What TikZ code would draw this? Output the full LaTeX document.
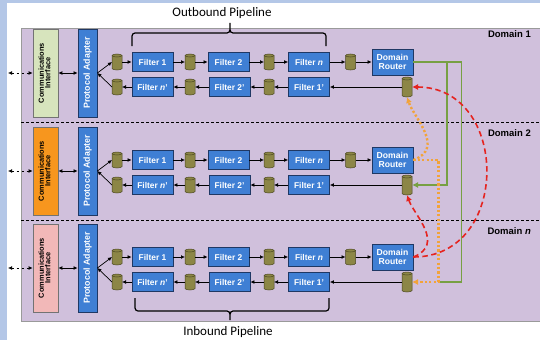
\documentclass[tikz,border=0pt]{standalone}
\usepackage{fontspec}
\setmainfont{Liberation Sans}
\newfontfamily\calib{Carlito}
\usetikzlibrary{arrows.meta,calc}
\definecolor{bgblue}{HTML}{B4C7E7}
\definecolor{panel}{HTML}{D0C0DC}
\definecolor{panelb}{HTML}{9A9A9A}
\definecolor{fblue}{HTML}{3F7FD4}
\definecolor{fborder}{HTML}{1F3864}
\definecolor{cylf}{HTML}{8C8646}
\definecolor{cyld}{HTML}{4A4720}
\definecolor{cgreen}{HTML}{D7E4BD}
\definecolor{corange}{HTML}{F7961E}
\definecolor{cpink}{HTML}{F2B8B8}
\definecolor{lgreen}{HTML}{77A043}
\definecolor{lorange}{HTML}{F2A33A}
\definecolor{lred}{HTML}{E52420}
\tikzset{
 filt/.style={draw=fborder, fill=fblue, line width=0.8pt, minimum width=41, minimum height=19, inner sep=0, text=white, font=\bfseries\fontsize{8.4}{9.2}\selectfont},
 pad/.style={filt, minimum width=19, minimum height=88, font=\bfseries\fontsize{8.8}{10}\selectfont},
 comm/.style={draw=black!55, line width=0.6pt, minimum width=25, minimum height=88, inner sep=0, font=\bfseries\fontsize{7.4}{8.2}\selectfont},
 cylbox/.style={minimum width=10, inner sep=0, outer sep=0},
 cylst/.style={fill=cylf, draw=cyld, line width=0.5pt},
 arr/.style={-{Latex[length=4pt,width=3.8pt]}, line width=0.7pt},
 darr/.style={{Latex[length=4pt,width=3.8pt]}-{Latex[length=4pt,width=3.8pt]}, line width=0.7pt},
 grn/.style={draw=lgreen, line width=1.3pt},
 org/.style={draw=lorange, line width=2.4pt, dash pattern=on 2.2pt off 2.2pt},
 rdd/.style={draw=lred, line width=1.6pt, dash pattern=on 5.5pt off 3.5pt},
 bracestyle/.style={line width=1.2pt},
 dlab/.style={font=\bfseries\fontsize{9.5}{11}\selectfont, anchor=east, inner sep=0},
 plab/.style={font=\calib\fontsize{13}{15}\selectfont, inner sep=0},
 ctip/.style={-{Latex[length=6pt,width=6pt]}},
}
\newcommand\mycyl[4]{%
 \node[cylbox, minimum height=#4] (#1) at (#2,#3) {};
 \filldraw[cylst] ($(#1.north west)+(0,-1.5)$) -- ($(#1.south west)+(0,1.5)$)
   arc[start angle=180,end angle=360,x radius=5,y radius=1.5]
   -- ($(#1.north east)+(0,-1.5)$)
   arc[start angle=0,end angle=180,x radius=5,y radius=1.5] -- cycle;
 \draw[cylst, fill=none] ($(#1.north west)+(0,-1.5)$) arc[start angle=180,end angle=360,x radius=5,y radius=1.5];
}
\newcommand\mkdomain[3]{%
 \pgfmathsetmacro\ya{-#2}%
 \pgfmathsetmacro\yt{-#2+11}%
 \pgfmathsetmacro\yb{-#2-14}%
 \node[comm, fill=#3] (ci#1) at (45.5,\ya) {\rotatebox{90}{\begin{tabular}{@{}c@{}}Communications\\[-1.5pt]Interface\end{tabular}}};
 \node[pad] (pa#1) at (87.5,\ya) {\rotatebox{90}{Protocol Adapter}};
 \mycyl{ta#1}{117}{\yt}{16}
 \node[filt] (fa#1) at (152.5,\yt) {Filter 1};
 \mycyl{tb#1}{190}{\yt}{16}
 \node[filt] (fb#1) at (228.5,\yt) {Filter 2};
 \mycyl{tc#1}{269}{\yt}{16}
 \node[filt] (fc#1) at (309,\yt) {Filter \textit{n}};
 \mycyl{td#1}{350.5}{\yt}{16}
 \node[filt, minimum height=26, align=center, font=\bfseries\fontsize{8.6}{9.8}\selectfont] (r#1) at (392.5,\yt) {Domain\\Router};
 \mycyl{ba#1}{117}{\yb}{16}
 \node[filt] (ga#1) at (152.5,\yb) {Filter \textit{n}'};
 \mycyl{bb#1}{190}{\yb}{16}
 \node[filt] (gb#1) at (229.5,\yb) {Filter 2'};
 \mycyl{bc#1}{269}{\yb}{16}
 \node[filt] (gc#1) at (309,\yb) {Filter 1'};
 \mycyl{rc#1}{407}{\yb}{20}
 \coordinate (le#1) at (8,\ya);
 \draw[darr,dash pattern=on 2.5pt off 2.5pt] (le#1) -- (ci#1);
 \draw[darr] (ci#1) -- (pa#1);
 \draw[arr] (pa#1.east) -- (ta#1.west);
 \draw[arr] (ba#1.west) -- (pa#1.east);
 \draw[arr] (ta#1) -- (fa#1);
 \draw[arr] (fa#1) -- (tb#1);
 \draw[arr] (tb#1) -- (fb#1);
 \draw[arr] (fb#1) -- (tc#1);
 \draw[arr] (tc#1) -- (fc#1);
 \draw[arr] (fc#1) -- (td#1);
 \draw[arr] (td#1) -- (r#1);
 \draw[arr] (rc#1) -- (gc#1);
 \draw[arr] (gc#1) -- (bc#1);
 \draw[arr] (bc#1) -- (gb#1);
 \draw[arr] (gb#1) -- (bb#1);
 \draw[arr] (bb#1) -- (ga#1);
 \draw[arr] (ga#1) -- (ba#1);
}
\begin{document}
\begin{tikzpicture}[x=1pt,y=1pt]
\useasboundingbox (0,0) rectangle (540,-340);
\fill[bgblue] (0,0) rectangle (540,-340);
\fill[white] (7,-3) rectangle (540,-340);
\fill[panel] (21,-28) rectangle (540,-321);
\draw[draw=panelb, line width=1pt] (540,-28) -- (21,-28) -- (21,-321) -- (540,-321);
\draw[dash pattern=on 3pt off 2pt, line width=0.6pt] (21,-122) -- (540,-122);
\draw[dash pattern=on 3pt off 2pt, line width=0.6pt] (21,-220) -- (540,-220);
\node[dlab] (dl1) at (531,-34) {Domain 1};
\node[dlab] (dl2) at (531,-133) {Domain 2};
\node[dlab] (dl3) at (531,-231) {Domain \textit{n}};
\node[plab] (outp) at (222,-13) {Outbound Pipeline};
\node[plab] (inp) at (228,-332) {Inbound Pipeline};
\draw[bracestyle] (132,-46) -- (132,-36) to[out=90,in=180] (135,-33) -- (227,-33)
  to[out=0,in=-90] (230,-23) to[out=-90,in=180] (233,-33) -- (323,-33)
  to[out=0,in=90] (326,-36) -- (326,-46);
\draw[bracestyle] (135,-298) -- (135,-308) to[out=-90,in=180] (138,-311) -- (227,-311)
  to[out=0,in=90] (230,-320) to[out=90,in=180] (233,-311) -- (326,-311)
  to[out=0,in=-90] (329,-308) -- (329,-298);
\mkdomain{1}{73}{cgreen}
\mkdomain{2}{171}{corange}
\mkdomain{3}{268}{cpink}
% cross-domain connectors
\draw[grn] (r1.east) -- ++(48,0) |- ($(rc3.east)+(26,0)$);
\coordinate (gsplit) at (447,-62);
\draw[grn,-{Latex[length=6pt,width=6pt]}] (gsplit) |- (rc2.east);
\draw[org,ctip] (r2.east) -- ++(25,0) |- (rc3.east);
\draw[org,ctip] (r2.east) .. controls +(32,12) and +(7,-21) .. (rc1.south);
\draw[rdd,ctip] (r3.east) .. controls +(98,0) and +(98,0) .. (rc1.east);
\draw[rdd,ctip] (r3.east) .. controls +(32,13) and +(7,-20) .. (rc2.south);
\end{tikzpicture}
\end{document}
